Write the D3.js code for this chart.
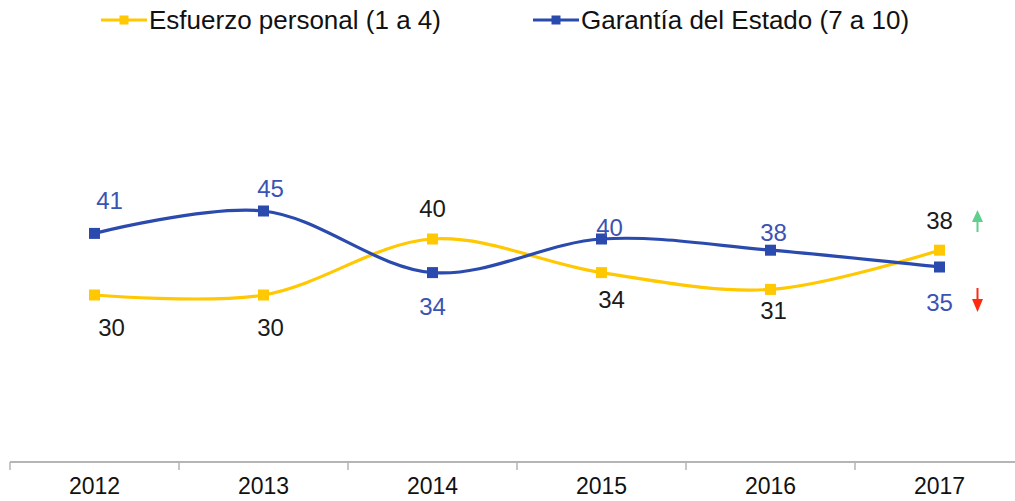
<!DOCTYPE html>
<html>
<head>
<meta charset="utf-8">
<script src="https://cdn.jsdelivr.net/npm/d3@7"></script>
<style>
	body { margin: 0; background: #fff; overflow: hidden; }
	text { font-family: "Liberation Sans", Arial, sans-serif; }
	.line { fill: none; stroke-width: 3.2; }
</style>
</head>
<body>
<div id="graphs"></div>
<script>
var years     = ["2012", "2013", "2014", "2015", "2016", "2017"];
var esfuerzo  = [30, 30, 40, 34, 31, 38];
var garantia  = [41, 45, 34, 40, 38, 35];
var seriesNames = ["Esfuerzo personal (1 a 4)", "Garantía del Estado (7 a 10)"];

// label nudges in px (dx, dy from the marker) – layout only
var nudgeEsf = [[17, 32], [7, 32], [0, -31], [10, 27], [3, 21], [0, -30]];
var nudgeGar = [[15, -33], [7, -23], [0, 34], [8, -12], [3, -18], [0, 35]];

var yellow = "#ffc800";
var blue   = "#2b4aae";
var blueTx = "#3b53b3";

function loadGraph() {
	var width  = 1015;
	var height = 501;

	var svg = d3.select('#graphs').append("svg")
		.attr("width", width)
		.attr("height", height)
		.style("display", "block");

	var xScale = d3.scaleBand().domain(years).range([10, 1024]).padding(0);
	var yScale = d3.scaleLinear().domain([0, 80]).range([463, 15]);
	var cx = function(y) { return xScale(y) + xScale.bandwidth() / 2; };

	addAxis(svg, xScale);

	var esfData = years.map(function(y, i) { return {year: y, v: esfuerzo[i], n: nudgeEsf[i]}; });
	var garData = years.map(function(y, i) { return {year: y, v: garantia[i], n: nudgeGar[i]}; });

	drawSeries(svg, esfData, xScale, yScale, cx, yellow, "#1a1a1a");
	drawSeries(svg, garData, xScale, yScale, cx, blue, blueTx);

	addArrows(svg, cx, yScale);
	addLegend(svg);
}

function drawSeries(svg, data, xScale, yScale, cx, color, textColor) {
	var valueline = d3.line()
		.x(function(d) { return cx(d.year); })
		.y(function(d) { return yScale(d.v); })
		.curve(d3.curveCatmullRom.alpha(0.5));

	svg.append("path")
		.data([data])
		.attr("class", "line")
		.attr("stroke", color)
		.attr("d", valueline);

	svg.selectAll(null)
		.data(data)
		.enter()
		.append("rect")
		.attr("x", function(d) { return cx(d.year) - 5.5; })
		.attr("y", function(d) { return yScale(d.v) - 5.5; })
		.attr("width", 11)
		.attr("height", 11)
		.attr("fill", color);

	svg.selectAll(null)
		.data(data)
		.enter()
		.append("text")
		.attr("x", function(d) { return cx(d.year) + d.n[0]; })
		.attr("y", function(d) { return yScale(d.v) + d.n[1]; })
		.attr("dy", "0.36em")
		.attr("text-anchor", "middle")
		.attr("font-size", 24)
		.attr("fill", textColor)
		.text(function(d) { return d.v; });
}

function addAxis(svg, xScale) {
	var y0 = 462;
	var g = svg.append("g").attr("class", "x axis");
	g.append("line")
		.attr("x1", 10).attr("x2", 1015)
		.attr("y1", y0).attr("y2", y0)
		.attr("stroke", "#b5b5b5").attr("stroke-width", 2);

	var edges = years.map(function(y) { return xScale(y); });
	g.selectAll(".tk")
		.data(edges)
		.enter()
		.append("line")
		.attr("x1", function(d) { return d; }).attr("x2", function(d) { return d; })
		.attr("y1", y0).attr("y2", y0 + 8)
		.attr("stroke", "#b5b5b5").attr("stroke-width", 1.5);

	g.selectAll(".lbl")
		.data(years)
		.enter()
		.append("text")
		.attr("x", function(d) { return xScale(d) + xScale.bandwidth() / 2; })
		.attr("y", 494)
		.attr("text-anchor", "middle")
		.attr("font-size", 23)
		.attr("fill", "#111")
		.text(function(d) { return d; });
}

function addArrows(svg, cx, yScale) {
	var ax = cx("2017") + 38;
	var up = svg.append("g").attr("fill", "#5fcf8c").attr("stroke", "#5fcf8c");
	up.append("line").attr("x1", ax).attr("x2", ax).attr("y1", 219).attr("y2", 232).attr("stroke-width", 2);
	up.append("path").attr("d", "M" + (ax - 5.5) + ",222 L" + ax + ",210 L" + (ax + 5.5) + ",222 Z").attr("stroke", "none");

	var dn = svg.append("g").attr("fill", "#ff2a10").attr("stroke", "#ff2a10");
	dn.append("line").attr("x1", ax).attr("x2", ax).attr("y1", 288).attr("y2", 302).attr("stroke-width", 2);
	dn.append("path").attr("d", "M" + (ax - 5.5) + ",299 L" + ax + ",312 L" + (ax + 5.5) + ",299 Z").attr("stroke", "none");
}

function addLegend(svg) {
	var items = [
		{x: 101, color: yellow, name: seriesNames[0]},
		{x: 533, color: blue, name: seriesNames[1]}
	];
	var lg = svg.append("g").attr("class", "legend");
	items.forEach(function(it) {
		lg.append("line")
			.attr("x1", it.x).attr("x2", it.x + 46)
			.attr("y1", 20).attr("y2", 20)
			.attr("stroke", it.color).attr("stroke-width", 3.2);
		lg.append("rect")
			.attr("x", it.x + 23 - 4.5).attr("y", 15.5)
			.attr("width", 9).attr("height", 9)
			.attr("fill", it.color);
		lg.append("text")
			.attr("x", it.x + 48)
			.attr("y", 20)
			.attr("dy", "0.36em")
			.attr("font-size", 26)
			.attr("fill", "#111")
			.text(it.name);
	});
}

loadGraph();
</script>
</body>
</html>
